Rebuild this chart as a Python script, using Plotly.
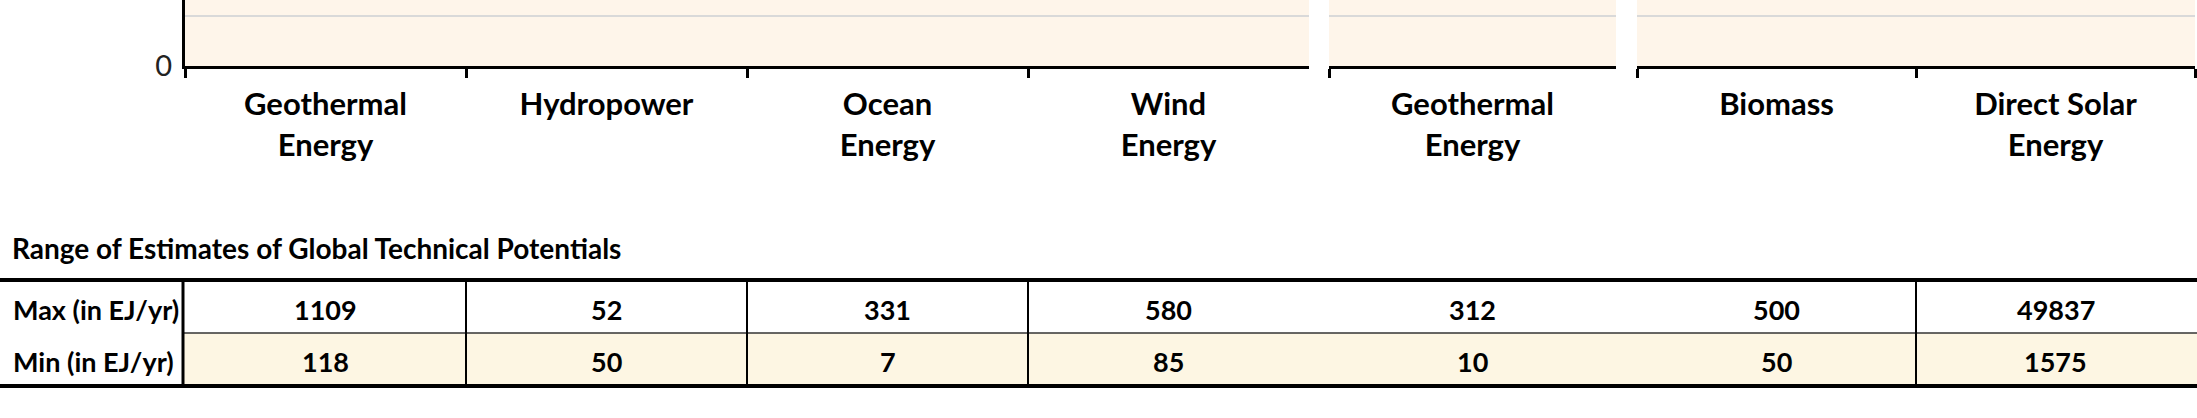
import plotly.graph_objects as go

# Categories per group (Electricity / Heat / Primary Energy)
elec_cats = ["Geothermal<br>Energy", "Hydropower", "Ocean<br>Energy", "Wind<br>Energy"]
heat_cats = ["Geothermal<br>Energy"]
prim_cats = ["Biomass", "Direct Solar<br>Energy"]

# Range of estimates of global technical potentials (EJ/yr)
elec_max = [1109, 52, 331, 580]
elec_min = [118, 50, 7, 85]
heat_max = [312]
heat_min = [10]
prim_max = [500, 49837]
prim_min = [50, 1575]

FONT = "Lato, Roboto, sans-serif"
BG = "#FEF5EA"
ROW = "#FDF6E3"
W, H = 2197, 418


def py(px):
    # pixel row -> paper y
    return 1 - px / H


fig = go.Figure()

groups = [
    ("x", elec_cats, elec_min, elec_max),
    ("x2", heat_cats, heat_min, heat_max),
    ("x3", prim_cats, prim_min, prim_max),
]
for xa, cats, lo, hi in groups:
    fig.add_trace(go.Bar(
        x=cats, y=[h - l for h, l in zip(hi, lo)], base=lo,
        xaxis=xa, yaxis="y", marker_color="#E8A33D", showlegend=False,
    ))

xcommon = dict(
    type="category", showline=True, linewidth=3, linecolor="black",
    ticks="outside", tickson="boundaries", ticklen=9, tickwidth=3, tickcolor="black",
    showgrid=False, anchor="y", automargin=False,
    tickfont=dict(family=FONT, size=31, color="black", weight="bold"),
    ticklabelstandoff=9,
)

fig.update_layout(
    width=W, height=H,
    margin=dict(l=0, r=0, t=0, b=0, pad=0),
    paper_bgcolor="white", plot_bgcolor=BG,
    bargap=0.4,
    xaxis=dict(domain=[185 / W, 1309 / W], **xcommon),
    xaxis2=dict(domain=[1329 / W, 1616 / W], **xcommon),
    xaxis3=dict(domain=[1637 / W, 2195 / W], **xcommon),
    yaxis=dict(
        domain=[py(66), 1], range=[0, 1.32],
        tickvals=[0, 1], ticktext=["0", ""],
        showgrid=True, gridcolor="#D9D9D9", gridwidth=2,
        zeroline=False, showline=True, linewidth=3, linecolor="black",
        ticks="", ticklabelstandoff=4, automargin=False,
        tickfont=dict(family=FONT, size=29, color="#222222"),
    ),
)

# ---- table below the chart ----
fig.add_annotation(
    text="Range of Estimates of Global Technical Potentials",
    xref="paper", yref="paper", x=10 / W, y=py(248), xanchor="left", yanchor="middle",
    showarrow=False, font=dict(family=FONT, size=28, color="black", weight="bold"),
)

# shaded min row
fig.add_shape(type="rect", xref="paper", yref="paper",
              x0=183 / W, x1=1, y0=py(386), y1=py(333),
              fillcolor=ROW, line_width=0, layer="below")
# horizontal rules
fig.add_shape(type="line", xref="paper", yref="paper", x0=0, x1=1,
              y0=py(280), y1=py(280), line=dict(color="black", width=4))
fig.add_shape(type="line", xref="paper", yref="paper", x0=183 / W, x1=1,
              y0=py(333), y1=py(333), line=dict(color="#333333", width=1.5))
fig.add_shape(type="line", xref="paper", yref="paper", x0=0, x1=1,
              y0=py(386), y1=py(386), line=dict(color="black", width=4))
# header separator
fig.add_shape(type="line", xref="paper", yref="paper", x0=183 / W, x1=183 / W,
              y0=py(386), y1=py(280), line=dict(color="black", width=3))
# column separators on category boundaries
for xa, xv in [("x", 0.5), ("x", 1.5), ("x", 2.5), ("x3", 0.5)]:
    fig.add_shape(type="line", xref=xa, yref="paper", x0=xv, x1=xv,
                  y0=py(386), y1=py(280), line=dict(color="black", width=2))

row_font = dict(family=FONT, size=27, color="black", weight="bold")
fig.add_annotation(text="Max (in EJ/yr)", xref="paper", yref="paper", x=11 / W, y=py(309),
                   xanchor="left", yanchor="middle", showarrow=False, font=row_font)
fig.add_annotation(text="Min (in EJ/yr)", xref="paper", yref="paper", x=11 / W, y=py(361),
                   xanchor="left", yanchor="middle", showarrow=False, font=row_font)

for xa, cats, lo, hi in groups:
    for c, l, h in zip(cats, lo, hi):
        fig.add_annotation(text=str(h), xref=xa, yref="paper", x=c, y=py(309),
                           showarrow=False, yanchor="middle", font=row_font)
        fig.add_annotation(text=str(l), xref=xa, yref="paper", x=c, y=py(361),
                           showarrow=False, yanchor="middle", font=row_font)

# drop the browser's default page margin so the figure sits at the window origin
fig.write_html("out.html", config={"displayModeBar": False},
               post_script="document.body.style.margin='0';document.body.style.overflow='hidden';")
